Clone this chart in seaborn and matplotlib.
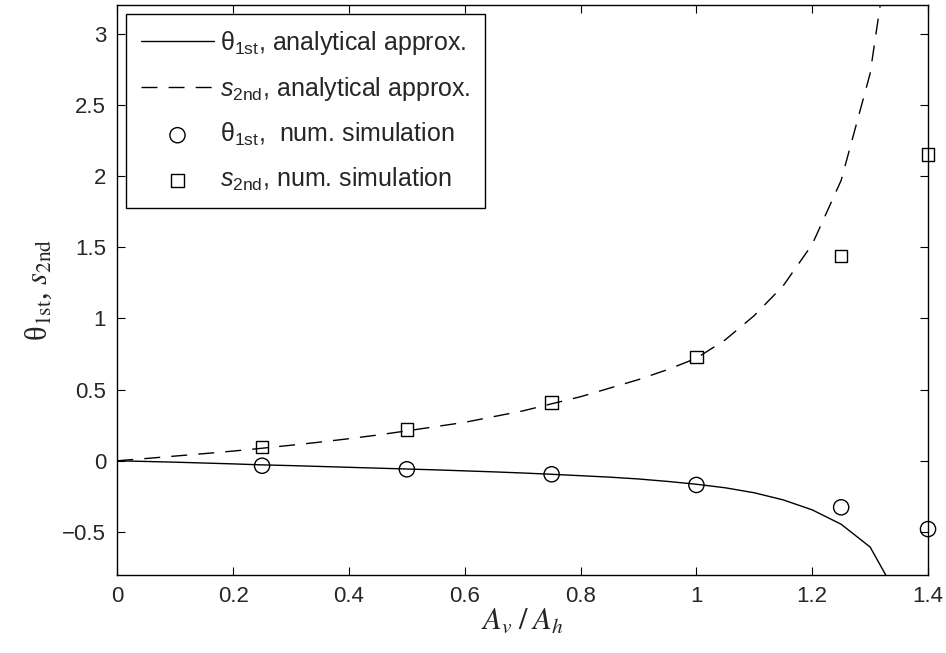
import numpy as np
import matplotlib
matplotlib.use("Agg")
import matplotlib.pyplot as plt
import seaborn as sns
from matplotlib.font_manager import FontProperties

# analytical approximation, sampled every 0.05
x_curve = [0.0, 0.05, 0.1, 0.15, 0.2, 0.25, 0.3, 0.35, 0.4, 0.45, 0.5, 0.55, 0.6, 0.65,
           0.7, 0.75, 0.8, 0.85, 0.9, 0.95, 1.0, 1.05, 1.1, 1.15, 1.2, 1.25, 1.3, 1.35]
theta_curve = [0.0, -0.005, -0.01, -0.016, -0.022, -0.029, -0.034, -0.04, -0.046, -0.052,
               -0.058, -0.064, -0.071, -0.078, -0.086, -0.095, -0.105, -0.115, -0.128,
               -0.145, -0.165, -0.19, -0.225, -0.275, -0.345, -0.446, -0.606, -0.97]
s_curve = [0.0, 0.016, 0.033, 0.05, 0.068, 0.088, 0.109, 0.131, 0.155, 0.181, 0.21, 0.24,
           0.27, 0.31, 0.35, 0.40, 0.45, 0.51, 0.57, 0.64, 0.72, 0.85, 1.02, 1.23, 1.52,
           1.97, 2.72, 4.1]

# numerical simulation
x_sim = [0.25, 0.5, 0.75, 1.0, 1.25, 1.4]
theta_sim = [-0.035, -0.06, -0.095, -0.17, -0.327, -0.48]
s_sim = [0.096, 0.22, 0.41, 0.73, 1.44, 2.15]

sns.set_style("ticks")
plt.rcParams["font.family"] = ["Liberation Sans", "DejaVu Sans"]
plt.rcParams["mathtext.fontset"] = "custom"
plt.rcParams["mathtext.rm"] = "Liberation Sans"
plt.rcParams["mathtext.it"] = "Liberation Sans:italic"
plt.rcParams["xtick.direction"] = "in"
plt.rcParams["ytick.direction"] = "in"

fig = plt.figure(figsize=(9.46, 6.53), dpi=100)
ax = fig.add_axes([0.124, 0.12, 0.857, 0.872])

sns.lineplot(x=x_curve, y=theta_curve, ax=ax, color="k", lw=1.0, sort=False,
             label=r"θ$_{\mathrm{1st}}$, analytical approx.")
sns.lineplot(x=x_curve, y=s_curve, ax=ax, color="k", lw=1.0, sort=False,
             label=r"$s_{\mathrm{2nd}}$, analytical approx.")
ax.lines[1].set_dashes((11.5, 8))
sns.scatterplot(x=x_sim, y=theta_sim, ax=ax, marker="o", s=120, facecolor="none",
                edgecolor="k", linewidth=1.0, clip_on=False, zorder=5,
                label=r"θ$_{\mathrm{1st}}$,  num. simulation")
sns.scatterplot(x=x_sim, y=s_sim, ax=ax, marker="s", s=80, facecolor="none",
                edgecolor="k", linewidth=1.0, clip_on=False, zorder=5,
                label=r"$s_{\mathrm{2nd}}$, num. simulation")

ax.set_xlim(0, 1.4)
ax.set_ylim(-0.8, 3.2)
ax.set_xticks([0, 0.2, 0.4, 0.6, 0.8, 1.0, 1.2, 1.4])
ax.set_xticklabels(["0", "0.2", "0.4", "0.6", "0.8", "1", "1.2", "1.4"])
ax.set_yticks([-0.5, 0, 0.5, 1, 1.5, 2, 2.5, 3])
ax.set_yticklabels(["\u22120.5", "0", "0.5", "1", "1.5", "2", "2.5", "3"])
ax.tick_params(labelsize=16, length=6, width=0.8, top=True, right=True, color="k", pad=8)
for sp in ax.spines.values():
    sp.set_visible(True)
    sp.set_linewidth(1.0)
    sp.set_color("k")

serif = FontProperties(family="Liberation Serif", size=22, math_fontfamily="stix")
ax.set_xlabel(r"$A_v\;/\;A_h$", fontproperties=serif, labelpad=0)
ax.set_ylabel(r"θ$_{\mathrm{1st}}$, $s_{\mathrm{2nd}}$", fontproperties=serif, labelpad=6)

leg = ax.legend(loc="upper left", bbox_to_anchor=(0.011, 0.985), fontsize=18,
                frameon=True, fancybox=False, framealpha=1, edgecolor="k",
                handlelength=2.9, handletextpad=0.25, labelspacing=0.72,
                borderpad=0.6, borderaxespad=0)
leg.get_frame().set_linewidth(1.0)

fig.savefig("out.png", dpi=100)
